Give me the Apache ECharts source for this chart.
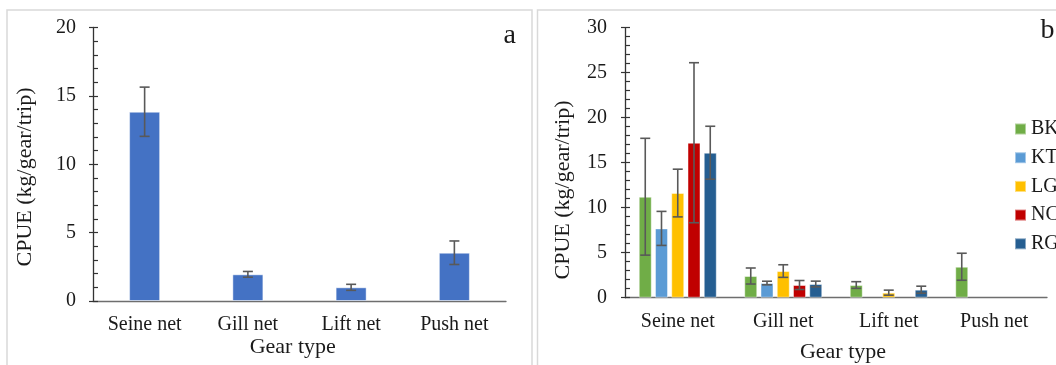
<!DOCTYPE html>
<html>
<head>
<meta charset="utf-8">
<script src="https://cdn.jsdelivr.net/npm/echarts@6/dist/echarts.min.js"></script>
<style>
  html, body { margin: 0; padding: 0; background: #fff; }
  #chart { width: 1056px; height: 365px; }
</style>
</head>
<body>
<div id="chart"></div>
<script>
// data
const gears = ['Seine net', 'Gill net', 'Lift net', 'Push net'];

// panel a: all sites pooled (mean and error)
const allMean = [13.84, 1.95, 1.0, 3.53];
const allErr = [1.8, 0.21, 0.22, 0.86];

// panel b: by site
const sites = ['BK', 'KT', 'LG', 'NC', 'RG'];
const bkMean = [11.22, 2.41, 1.41, 3.44];
const bkErr = [6.49, 0.89, 0.37, 1.5];
const ktMean = [7.7, 1.63, null, null];
const ktErr = [1.89, 0.2, null, null];
const lgMean = [11.63, 2.96, 0.56, null];
const lgErr = [2.65, 0.7, 0.28, null];
const ncMean = [17.22, 1.41, null, null];
const ncErr = [8.89, 0.5, null, null];
const rgMean = [16.11, 1.52, 0.89, null];
const rgErr = [2.94, 0.32, 0.39, null];

const siteMeans = [bkMean, ktMean, lgMean, ncMean, rgMean];
const siteErrs = [bkErr, ktErr, lgErr, ncErr, rgErr];
const siteColors = ['#70AD47', '#5B9BD5', '#FFC000', '#C00000', '#255E91'];

const serif = 'Liberation Serif, Times New Roman, serif';
const txt = '#1a1a1a';

const BAR_B = 13;
const GAP_B = 0.25;

const errorRender = (stepPx, nSeries) => (params, api) => {
  const cat = api.value(0);
  const mean = api.value(1);
  const err = api.value(2);
  const idx = api.value(3);
  const top = api.coord([cat, mean + err]);
  const bot = api.coord([cat, mean - err]);
  const x = top[0] + (idx - (nSeries - 1) / 2) * stepPx;
  const half = 5;
  const style = { stroke: '#595959', lineWidth: 1.6 };
  return {
    type: 'group',
    children: [
      { type: 'line', shape: { x1: x, y1: top[1], x2: x, y2: bot[1] }, style },
      { type: 'line', shape: { x1: x - half, y1: top[1], x2: x + half, y2: top[1] }, style },
      { type: 'line', shape: { x1: x - half, y1: bot[1], x2: x + half, y2: bot[1] }, style }
    ]
  };
};

const errDataA = allMean.map((m, i) => [i, m, allErr[i], 0]);
const errDataB = [];
siteMeans.forEach((arr, s) => {
  arr.forEach((m, i) => {
    if (m != null) errDataB.push([i, m, siteErrs[s][i], s]);
  });
});

const makeX = (gridIndex) => ({
  type: 'category',
  gridIndex,
  data: gears,
  axisTick: { show: false },
  axisLine: { lineStyle: { color: '#6e6e6e', width: 1.3 } },
  axisLabel: { color: txt, fontFamily: serif, fontSize: 20, margin: 14 },
  splitLine: { show: false }
});

// main y axis: labels, line, inside ticks + minor ticks
const makeY = (gridIndex, max, margin) => ({
  type: 'value',
  gridIndex,
  position: 'left',
  min: 0,
  max,
  interval: 5,
  axisLine: { show: true, lineStyle: { color: '#333', width: 1.3 } },
  axisTick: { show: true, inside: true, length: 5, lineStyle: { color: '#333', width: 1.2 } },
  minorTick: { show: true, splitNumber: 5, length: 5, lineStyle: { color: '#333', width: 1.2 } },
  axisLabel: { color: txt, fontFamily: serif, fontSize: 20, margin },
  splitLine: { show: false },
  minorSplitLine: { show: false }
});

// overlay y axis that only adds the outside half of the major ticks
const makeYOuter = (gridIndex, max) => ({
  type: 'value',
  gridIndex,
  position: 'left',
  offset: 0,
  min: 0,
  max,
  interval: 5,
  axisLine: { show: false },
  axisTick: { show: true, inside: false, length: 4, lineStyle: { color: '#333', width: 1.2 } },
  axisLabel: { show: false },
  splitLine: { show: false }
});

const siteBars = sites.map((name, s) => ({
  name,
  type: 'bar',
  xAxisIndex: 1,
  yAxisIndex: 2,
  data: siteMeans[s],
  barWidth: BAR_B,
  barGap: GAP_B * 100 + '%',
  itemStyle: { color: siteColors[s], borderColor: 'rgba(255,255,255,0.45)', borderWidth: 1 },
  z: 2
}));

const option = {
  backgroundColor: '#fff',
  animation: false,
  grid: [
    { left: 93, top: 27.5, width: 413, height: 273.5, outerBoundsMode: 'none' },
    { left: 625, top: 27.7, width: 422, height: 270, outerBoundsMode: 'none' }
  ],
  xAxis: [makeX(0), makeX(1)],
  yAxis: [makeY(0, 20, 17), makeYOuter(0, 20), makeY(1, 30, 18), makeYOuter(1, 30)],
  legend: {
    data: sites,
    orient: 'vertical',
    left: 1009,
    top: 114,
    padding: 5,
    icon: 'rect',
    itemWidth: 11,
    itemHeight: 11,
    itemGap: 8.7,
    textStyle: { color: txt, fontFamily: serif, fontSize: 20, lineHeight: 20 }
  },
  series: [
    {
      name: 'All',
      type: 'bar',
      xAxisIndex: 0,
      yAxisIndex: 0,
      data: allMean,
      barWidth: 31,
      itemStyle: { color: '#4472C4', borderColor: 'rgba(255,255,255,0.45)', borderWidth: 1 },
      z: 2
    },
    {
      type: 'custom',
      xAxisIndex: 0,
      yAxisIndex: 0,
      data: errDataA,
      encode: { x: 0, y: 1 },
      renderItem: errorRender(0, 1),
      z: 5
    },
    ...siteBars,
    {
      type: 'custom',
      xAxisIndex: 1,
      yAxisIndex: 2,
      data: errDataB,
      encode: { x: 0, y: 1 },
      renderItem: errorRender(BAR_B * (1 + GAP_B), sites.length),
      z: 5
    }
  ],
  graphic: [
    { type: 'rect', shape: { x: 7, y: 10, width: 525, height: 370 }, style: { fill: 'none', stroke: '#d9d9d9', lineWidth: 1.5 }, z: -1 },
    { type: 'rect', shape: { x: 537.5, y: 10, width: 540, height: 370 }, style: { fill: 'none', stroke: '#d9d9d9', lineWidth: 1.5 }, z: -1 },
    { type: 'text', x: 25, y: 177, rotation: Math.PI / 2, style: { text: 'CPUE (kg/gear/trip)', font: '22px ' + serif, fill: txt, textAlign: 'center', textVerticalAlign: 'middle' } },
    { type: 'text', x: 563, y: 190, rotation: Math.PI / 2, style: { text: 'CPUE (kg/gear/trip)', font: '22px ' + serif, fill: txt, textAlign: 'center', textVerticalAlign: 'middle' } },
    { type: 'text', x: 292.7, y: 347, style: { text: 'Gear type', font: '22px ' + serif, fill: txt, textAlign: 'center', textVerticalAlign: 'middle' } },
    { type: 'text', x: 843, y: 352, style: { text: 'Gear type', font: '22px ' + serif, fill: txt, textAlign: 'center', textVerticalAlign: 'middle' } },
    { type: 'text', x: 509.6, y: 36, style: { text: 'a', font: '28px ' + serif, fill: txt, textAlign: 'center', textVerticalAlign: 'middle' } },
    { type: 'text', x: 1047.5, y: 31, style: { text: 'b', font: '28px ' + serif, fill: txt, textAlign: 'center', textVerticalAlign: 'middle' } }
  ]
};

window.addEventListener('load', () => {
  const chart = echarts.init(document.getElementById('chart'));
  chart.setOption(option);
});
</script>
</body>
</html>
